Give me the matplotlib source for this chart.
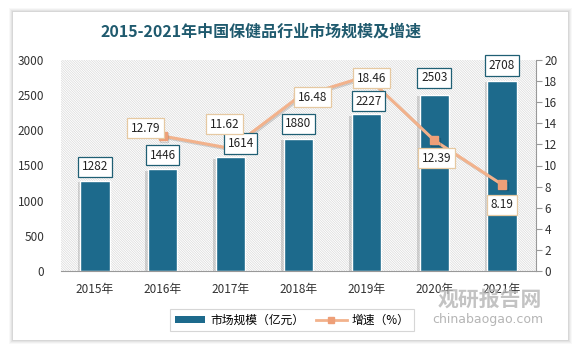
import matplotlib
matplotlib.use('Agg')
import matplotlib.pyplot as plt
import matplotlib.patheffects as pe
from matplotlib.patches import Rectangle, Patch
from matplotlib.lines import Line2D
import numpy as np

plt.rcParams['font.family'] = ['Noto Sans CJK SC', 'DejaVu Sans']
plt.rcParams['hatch.color'] = '#d6d6d6'
plt.rcParams['hatch.linewidth'] = 0.45

# data
years = ['2015年', '2016年', '2017年', '2018年', '2019年', '2020年', '2021年']
market_size = [1282, 1446, 1614, 1880, 2227, 2503, 2708]
growth_years = ['2016年', '2017年', '2018年', '2019年', '2020年', '2021年']
growth = [12.79, 11.62, 16.48, 18.46, 12.39, 8.19]

bar_color = '#1d6a8c'
line_color = '#f2b28c'
marker_color = '#ee9f78'
title_color = '#1f5a6e'

W, H = 583, 352
fig = plt.figure(figsize=(W / 100, H / 100), dpi=100)
fig.patch.set_facecolor('white')

# card with soft shadow
for i, a in enumerate([0.05, 0.07, 0.09, 0.12]):
    d = 4 - i
    fig.patches.append(Rectangle(((13 - d) / W, 1 - (340 + d) / H), (555 + 2 * d) / W, (328 + 2 * d) / H,
                                 transform=fig.transFigure, facecolor='#808080', alpha=a,
                                 edgecolor='none', zorder=-3))
fig.patches.append(Rectangle((13 / W, 1 - 340 / H), 555 / W, 328 / H, transform=fig.transFigure,
                             facecolor='white', edgecolor='none', zorder=-2))

ax = fig.add_axes([61 / W, 1 - 271 / H, (536 - 61) / W, (271 - 60) / H])
ax.set_facecolor('white')
ax.patch.set_hatch('\\' * 14)
ax.patch.set_edgecolor('#d6d6d6')
ax.patch.set_linewidth(0)

x = np.arange(len(years))
bars = ax.bar(x, market_size, width=0.43, color=bar_color, edgecolor='white', linewidth=1, zorder=2)
for b in bars:
    b.set_path_effects([pe.SimplePatchShadow(offset=(-2, -1), shadow_rgbFace='#666666', alpha=0.25),
                        pe.Normal()])

ax.set_xlim(-0.5, len(years) - 0.5)
ax.set_ylim(0, 3000)
ax.set_yticks(range(0, 3001, 500))
ax.set_xticks(x)
ax.set_xticklabels(years)
for s in ['top', 'right', 'left']:
    ax.spines[s].set_visible(False)
ax.spines['bottom'].set_color('#999999')
ax.tick_params(axis='y', length=0, labelsize=8.5, colors='#333333', pad=12)
ax.tick_params(axis='x', length=0, labelsize=8.5, colors='#333333', pad=9)

ax2 = ax.twinx()
ax2.set_ylim(0, 20)
ax2.set_yticks(range(0, 21, 2))
for s in ['top', 'left', 'bottom']:
    ax2.spines[s].set_visible(False)
ax2.spines['right'].set_color('#999999')
ax2.tick_params(axis='y', length=4, direction='out', color='#999999', labelsize=8.5,
                labelcolor='#333333', pad=2)

gx = [years.index(y) for y in growth_years]
ax2.plot(gx, growth, color=line_color, linewidth=2.2, marker='s', markersize=6,
         markerfacecolor=marker_color, markeredgecolor=marker_color, zorder=3,
         path_effects=[pe.SimpleLineShadow(offset=(1, -1), alpha=0.15), pe.Normal()])

# bar labels drawn on ax2 (using bar data coords) so they sit above the line
bar_offsets = [(0, 14), (0, 14), (10, 14), (0, 15), (2, 13), (0, 17), (0, 15)]
for xi, v, off in zip(x, market_size, bar_offsets):
    ax2.annotate(str(v), (xi, v), xycoords=ax.transData, xytext=off, textcoords='offset pixels',
                 ha='center', va='center', fontsize=8.5, color='#222222', zorder=5,
                 bbox=dict(boxstyle='square,pad=0.3', facecolor='white', edgecolor='#1f5f74', linewidth=0.9))

line_offsets = [(-17, 8), (-6, 24), (14, 0), (5, -2), (2, -18), (0, -20)]
for xi, v, off in zip(gx, growth, line_offsets):
    ax2.annotate(f'{v:.2f}', (xi, v), xytext=off, textcoords='offset pixels', ha='center', va='center',
                 fontsize=8.5, color='#222222', zorder=6,
                 bbox=dict(boxstyle='square,pad=0.3', facecolor='white', edgecolor='#e6c9a2', linewidth=0.9))

fig.text(261 / W, 1 - 32 / H, '2015-2021年中国保健品行业市场规模及增速', ha='center', va='center',
         fontsize=11.5, fontweight='bold', color=title_color)

handles = [Patch(facecolor=bar_color, edgecolor='none'),
           Line2D([0], [0], color=line_color, linewidth=2, marker='s', markersize=5,
                  markerfacecolor=marker_color, markeredgecolor=marker_color)]
leg = fig.legend(handles, ['市场规模（亿元）', '增速（%）'], loc='center',
                 bbox_to_anchor=(292 / W, 1 - 320 / H), ncol=2, frameon=True, fancybox=False,
                 fontsize=8.5, handlelength=2.6, handleheight=0.5, columnspacing=1.0,
                 handletextpad=0.4, borderpad=0.4)
leg.get_frame().set_edgecolor('#cccccc')
leg.get_frame().set_linewidth(0.8)

# watermark
fig.text(490 / W, 1 - 299 / H, '观研报告网', ha='center', va='center', fontsize=15,
         fontweight='bold', color='#b5b5b5', alpha=0.8)
fig.text(488 / W, 1 - 320 / H, 'chinabaogao.com', ha='center', va='center', fontsize=9,
         color='#b5b5b5', family=['DejaVu Sans'])

fig.savefig('out.png', dpi=100)
